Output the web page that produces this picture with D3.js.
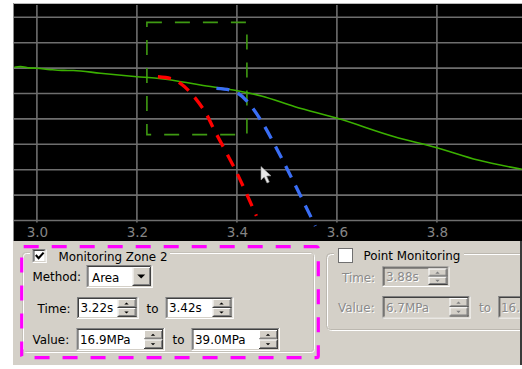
<!DOCTYPE html>
<html>
<head>
<meta charset="utf-8">
<script src="https://cdn.jsdelivr.net/npm/d3@7"></script>
<style>
  html, body { margin: 0; padding: 0; background: #ffffff; }
  svg { display: block; }
</style>
</head>
<body>
<svg id="chart" width="522" height="369"></svg>
<script>
// ---------------- data ----------------
const timeTicks = [3.0, 3.2, 3.4, 3.6, 3.8];
const valueGrid = [0, 5, 10, 15, 20, 25, 30, 35, 40];

const curveTime  = [2.955, 2.967, 2.985, 3.0, 3.027, 3.05, 3.073, 3.127, 3.2, 3.24, 3.28, 3.327, 3.401, 3.449, 3.516, 3.601, 3.715, 3.8, 3.882, 3.97];
const curveValue = [30.16, 30.30, 30.05, 29.96, 29.70, 29.55, 29.53, 28.98, 28.31, 27.99, 27.46, 26.67, 25.55, 24.51, 22.40, 20.12, 16.50, 14.33, 11.91, 10.08];

const redTime   = [3.242, 3.269, 3.287, 3.307, 3.335, 3.357, 3.400, 3.439];
const redValue  = [28.3, 27.9, 27.0, 25.2, 21.6, 17.4, 9.35, 0.9];

const blueTime  = [3.359, 3.385, 3.403, 3.423, 3.45, 3.483, 3.515, 3.557];
const blueValue = [26.0, 25.7, 25.0, 23.2, 19.4, 13.5, 7.3, -1.1];

const zoneTime  = [3.22, 3.42];
const zoneValue = [16.9, 39.0];

const zoneLabel = "Monitoring Zone 2";
const methodValue = "Area";
const zoneTimeText  = ["3.22s", "3.42s"];
const zoneValueText = ["16.9MPa", "39.0MPa"];
const pointLabel = "Point Monitoring";
const pointTimeText = "3.88s";
const pointValueText = ["6.7MPa", "16."];

// ---------------- setup ----------------
const svg = d3.select("#chart");
const FONT = "'DejaVu Sans', sans-serif";
const x = d3.scaleLinear().domain([3.0, 3.8]).range([36.9, 436.9]);
const y = d3.scaleLinear().domain([0, 40]).range([220.5, 17.3]);

const plot = {left: 14, top: 4, right: 522, bottom: 241};

// chart background
svg.append("rect").attr("x", plot.left).attr("y", plot.top)
  .attr("width", plot.right - plot.left).attr("height", plot.bottom - plot.top)
  .attr("fill", "#000");
svg.append("line").attr("x1", 13).attr("x2", 522).attr("y1", 3.5).attr("y2", 3.5)
  .attr("stroke", "#b8b8b8").attr("stroke-width", 1);
svg.append("line").attr("x1", 13.5).attr("x2", 13.5).attr("y1", 3).attr("y2", 241)
  .attr("stroke", "#8c8c8c").attr("stroke-width", 1);

svg.append("defs").append("clipPath").attr("id", "plotclip")
  .append("rect").attr("x", plot.left).attr("y", plot.top)
  .attr("width", plot.right - plot.left).attr("height", plot.bottom - plot.top);

const g = svg.append("g").attr("clip-path", "url(#plotclip)");

// grid
g.selectAll("line.hgrid").data(valueGrid).join("line")
  .attr("class", "hgrid")
  .attr("x1", plot.left).attr("x2", plot.right)
  .attr("y1", d => y(d)).attr("y2", d => y(d))
  .attr("stroke", "#6e6e6e").attr("stroke-width", 1.6);
g.selectAll("line.vgrid").data(timeTicks).join("line")
  .attr("class", "vgrid")
  .attr("x1", d => x(d)).attr("x2", d => x(d))
  .attr("y1", plot.top + 1).attr("y2", y(0) + 2)
  .attr("stroke", "#6e6e6e").attr("stroke-width", 1.6);

// axis labels
const axis = d3.axisBottom(x).tickValues(timeTicks).tickSize(0).tickPadding(0)
  .tickFormat(d3.format(".1f"));
const ax = svg.append("g").attr("transform", `translate(0,${226})`).call(axis);
ax.select(".domain").remove();
ax.selectAll("text").attr("fill", "#858585").attr("font-family", FONT)
  .attr("font-size", 13.5).attr("dy", "0.85em");

// zone rectangle
g.append("rect")
  .attr("x", x(zoneTime[0])).attr("y", y(zoneValue[1]))
  .attr("width", x(zoneTime[1]) - x(zoneTime[0]))
  .attr("height", y(zoneValue[0]) - y(zoneValue[1]))
  .attr("fill", "none").attr("stroke", "#3f9a12").attr("stroke-width", 1.6)
  .attr("stroke-dasharray", "15,13");

// main curve
const lineGen = d3.line().x(d => x(d[0])).y(d => y(d[1])).curve(d3.curveMonotoneX);
g.append("path").datum(d3.zip(curveTime, curveValue))
  .attr("d", lineGen).attr("fill", "none")
  .attr("stroke", "#3bb000").attr("stroke-width", 1.6);

// predicted dashed curves
const predGen = d3.line().x(d => x(d[0])).y(d => y(d[1])).curve(d3.curveCatmullRom);
g.append("path").datum(d3.zip(redTime, redValue))
  .attr("d", predGen).attr("fill", "none")
  .attr("stroke", "#ff0000").attr("stroke-width", 3.3)
  .attr("stroke-dasharray", "13,9");
g.append("path").datum(d3.zip(blueTime, blueValue))
  .attr("d", predGen).attr("fill", "none")
  .attr("stroke", "#3a6ef5").attr("stroke-width", 3.3)
  .attr("stroke-dasharray", "13,9");

// mouse cursor (decoration)
svg.append("path")
  .attr("d", "M261,166.5 L261,180 L264.2,177 L267,183 L269.3,182 L266.6,176 L271,175.8 Z")
  .attr("fill", "#e8e8e8").attr("stroke", "#9a9a9a").attr("stroke-width", 0.6);

// ---------------- lower panel ----------------
const P = svg.append("g");
P.append("rect").attr("x", 13).attr("y", 241).attr("width", 507).attr("height", 124)
  .attr("fill", "#d4d0c8");

function line(x1, y1, x2, y2, c) {
  P.append("line").attr("x1", x1).attr("y1", y1).attr("x2", x2).attr("y2", y2)
    .attr("stroke", c).attr("stroke-width", 1);
}
function sunken(x0, y0, w, h, fill) {
  P.append("rect").attr("x", x0).attr("y", y0).attr("width", w).attr("height", h).attr("fill", fill);
  line(x0, y0 + 0.5, x0 + w, y0 + 0.5, "#808080");
  line(x0 + 0.5, y0, x0 + 0.5, y0 + h, "#808080");
  line(x0 + 1, y0 + 1.5, x0 + w - 1, y0 + 1.5, "#404040");
  line(x0 + 1.5, y0 + 1, x0 + 1.5, y0 + h - 1, "#404040");
  line(x0, y0 + h - 0.5, x0 + w, y0 + h - 0.5, "#ffffff");
  line(x0 + w - 0.5, y0, x0 + w - 0.5, y0 + h, "#ffffff");
  line(x0 + 1, y0 + h - 1.5, x0 + w - 1, y0 + h - 1.5, "#d4d0c8");
  line(x0 + w - 1.5, y0 + 1, x0 + w - 1.5, y0 + h - 1, "#d4d0c8");
}
function raised(x0, y0, w, h) {
  P.append("rect").attr("x", x0).attr("y", y0).attr("width", w).attr("height", h).attr("fill", "#d4d0c8");
  line(x0, y0 + 0.5, x0 + w, y0 + 0.5, "#ffffff");
  line(x0 + 0.5, y0, x0 + 0.5, y0 + h, "#ffffff");
  line(x0, y0 + h - 0.5, x0 + w, y0 + h - 0.5, "#404040");
  line(x0 + w - 0.5, y0, x0 + w - 0.5, y0 + h, "#404040");
  line(x0 + 1, y0 + h - 1.5, x0 + w - 1, y0 + h - 1.5, "#808080");
  line(x0 + w - 1.5, y0 + 1, x0 + w - 1.5, y0 + h - 1, "#808080");
}
function tri(cx, cy, s, up, c) {
  const p = up ? `M${cx - s},${cy + s / 2} L${cx + s},${cy + s / 2} L${cx},${cy - s / 2} Z`
               : `M${cx - s},${cy - s / 2} L${cx + s},${cy - s / 2} L${cx},${cy + s / 2} Z`;
  P.append("path").attr("d", p).attr("fill", c);
}
function text(t, x0, y0, disabled) {
  if (disabled) {
    P.append("text").attr("x", x0 + 1).attr("y", y0 + 1).text(t)
      .attr("font-family", FONT).attr("font-size", 11.9).attr("fill", "#ffffff");
  }
  P.append("text").attr("x", x0).attr("y", y0).text(t)
    .attr("font-family", FONT).attr("font-size", 11.9)
    .attr("fill", disabled ? "#8a8a8a" : "#000");
}
function spin(x0, y0, w, h, t, disabled) {
  sunken(x0, y0, w, h, disabled ? "#d4d0c8" : "#ffffff");
  const bw = 19, bx = x0 + w - 2 - bw, bh = (h - 4) / 2;
  raised(bx, y0 + 2, bw, bh);
  raised(bx, y0 + 2 + bh, bw, bh);
  const c = disabled ? "#808080" : "#000";
  tri(bx + bw / 2 - 0.5, y0 + 2 + bh / 2, 2.2, true, c);
  tri(bx + bw / 2 - 0.5, y0 + 2 + bh + bh / 2, 2.2, false, c);
  text(t, x0 + 3.5, y0 + h / 2 + 4.3, disabled);
}

// left group box (etched)
P.append("rect").attr("x", 23.5).attr("y", 253.5).attr("width", 291).attr("height", 99)
  .attr("fill", "none").attr("stroke", "#ffffff").attr("stroke-width", 1).attr("rx", 3);
P.append("rect").attr("x", 22.5).attr("y", 252.5).attr("width", 291).attr("height", 99)
  .attr("fill", "none").attr("stroke", "#c4c0b8").attr("stroke-width", 1).attr("rx", 3);
P.append("rect").attr("x", 30).attr("y", 246).attr("width", 140).attr("height", 16).attr("fill", "#d4d0c8");

// checkbox checked
sunken(32.5, 249, 14, 14, "#ffffff");
P.append("path").attr("d", "M35.8,255 L38.6,258.2 L43.6,252.6")
  .attr("fill", "none").attr("stroke", "#000").attr("stroke-width", 2.1);
text(zoneLabel, 58.5, 260.5, false);

text("Method:", 32.5, 281, false);
sunken(86.5, 265, 66, 23, "#ffffff");
raised(132.5, 267, 18.5, 19);
tri(141.2, 276.5, 4, false, "#000");
text(methodValue, 92, 281.5, false);

text("Time:", 37.5, 312.5, false);
spin(77, 297, 61.5, 22, zoneTimeText[0], false);
text("to", 146.5, 312.5, false);
spin(165.5, 297, 68, 22, zoneTimeText[1], false);

text("Value:", 32.5, 344, false);
spin(76.5, 328, 88.5, 23, zoneValueText[0], false);
text("to", 172.5, 344, false);
spin(191.5, 328, 88.5, 23, zoneValueText[1], false);

// magenta dashed highlight
P.append("rect").attr("x", 21.7).attr("y", 246.7).attr("width", 296.6).attr("height", 111)
  .attr("fill", "none").attr("stroke", "#ff00ff").attr("stroke-width", 3.2)
  .attr("stroke-dasharray", "15,13").attr("rx", 2);

// right group box
P.append("rect").attr("x", 327.5).attr("y", 254.5).attr("width", 200).attr("height", 76)
  .attr("fill", "none").attr("stroke", "#ffffff").attr("stroke-width", 1).attr("rx", 4);
P.append("rect").attr("x", 326.5).attr("y", 253.5).attr("width", 200).attr("height", 76)
  .attr("fill", "none").attr("stroke", "#bcb8b0").attr("stroke-width", 1).attr("rx", 4);
P.append("rect").attr("x", 334).attr("y", 246).attr("width", 130).attr("height", 16).attr("fill", "#d4d0c8");

P.append("rect").attr("x", 338.5).attr("y", 248.5).attr("width", 14).attr("height", 14)
  .attr("fill", "#ffffff").attr("stroke", "#707070").attr("stroke-width", 1);
text(pointLabel, 363.5, 259.5, false);

text("Time:", 342, 282, true);
spin(382.5, 266.5, 67, 20.5, pointTimeText, true);
text("Value:", 338, 312, true);
spin(382.5, 296, 88, 22.5, pointValueText[0], true);
text("to", 479, 312, true);
sunken(498.3, 296, 88, 22.5, "#d4d0c8");
text(pointValueText[1], 501, 311.5, true);

// panel right edge
P.append("rect").attr("x", 520).attr("y", 241).attr("width", 2).attr("height", 124)
  .attr("fill", "#3a3a3a");
</script>
</body>
</html>
